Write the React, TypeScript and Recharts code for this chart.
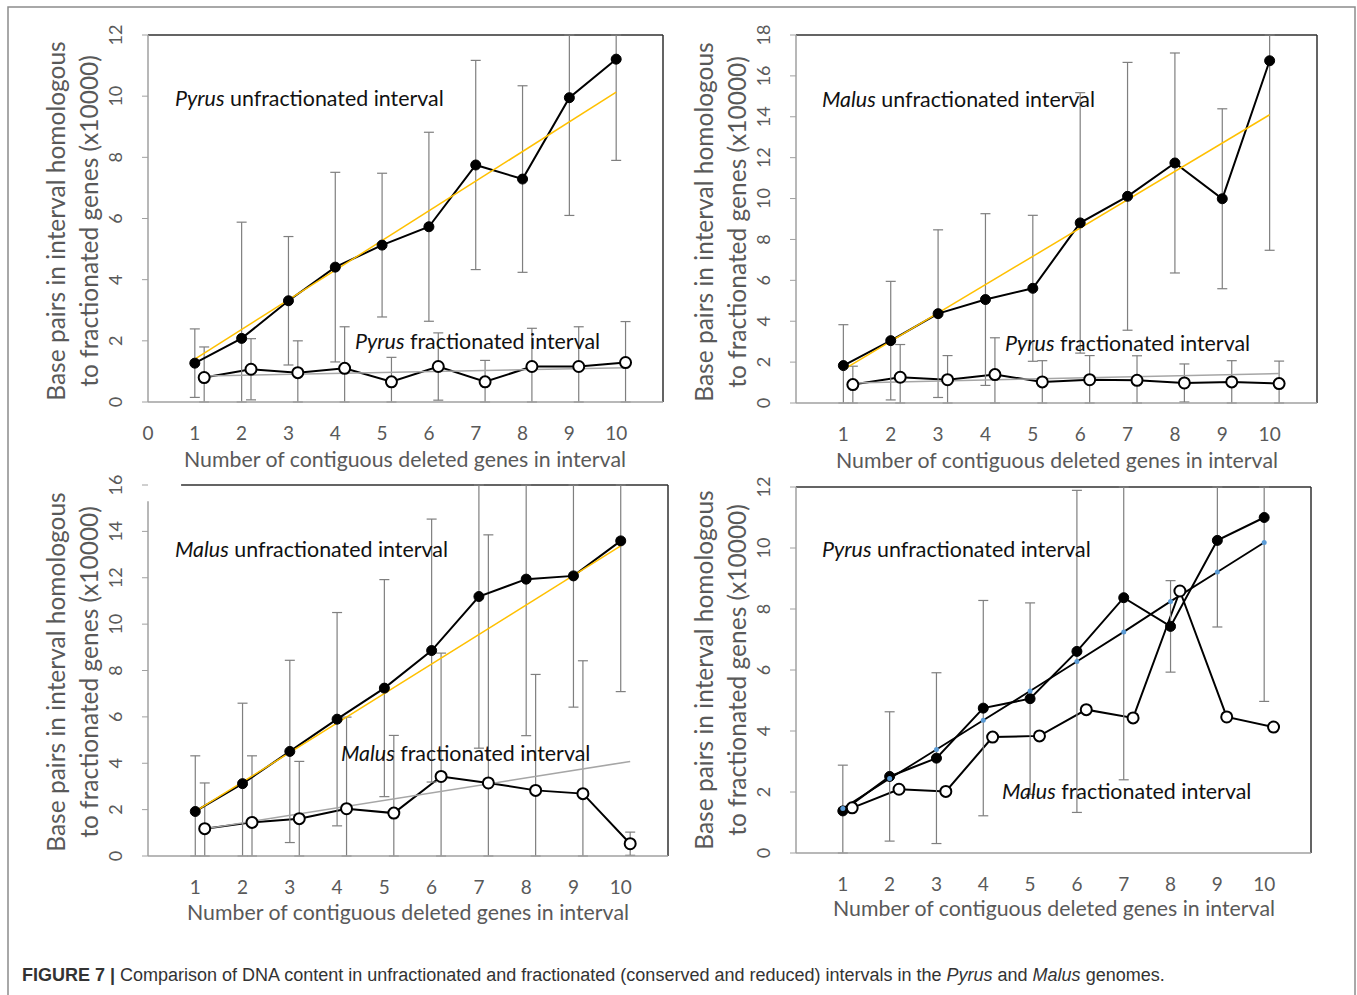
import React from 'react';
import { ComposedChart, Line, XAxis, YAxis, ErrorBar, ReferenceLine } from 'recharts';

// ---------- data ----------
const positions = [1, 2, 3, 4, 5, 6, 7, 8, 9, 10];
const fracShift = 0.2;
const trendX = [1, 10];

// Panel A: Pyrus unfractionated vs Pyrus fractionated
const aUnfrac = [1.27, 2.08, 3.31, 4.41, 5.13, 5.73, 7.75, 7.29, 9.95, 11.21];
const aUnfracErr = [1.12, 3.8, 2.1, 3.1, 2.35, 3.09, 3.42, 3.05, 3.85, 3.31];
const aFrac = [0.8, 1.07, 0.96, 1.1, 0.66, 1.16, 0.66, 1.16, 1.16, 1.29];
const aFracErr = [1.0, 1.0, 1.04, 1.36, 0.8, 1.1, 0.7, 1.25, 1.3, 1.34];
const aUnfracTrend = [1.4, 10.13];
const aFracTrend = [0.85, 1.12];
const aYTicks = [0, 2, 4, 6, 8, 10, 12];
const aXTicks = [0, 1, 2, 3, 4, 5, 6, 7, 8, 9, 10];

// Panel B: Malus unfractionated vs Pyrus fractionated
const bUnfrac = [1.83, 3.05, 4.37, 5.06, 5.61, 8.81, 10.11, 11.74, 9.99, 16.74];
const bUnfracErr = [2.0, 2.9, 4.1, 4.2, 3.57, 6.37, 6.55, 5.38, 4.4, 9.27];
const bFrac = [0.9, 1.26, 1.14, 1.39, 1.03, 1.14, 1.11, 0.98, 1.03, 0.95];
const bFracErr = [0.9, 1.6, 1.18, 1.8, 1.04, 1.18, 1.2, 0.93, 1.04, 1.1];
const bUnfracTrend = [1.63, 14.1];
const bFracTrend = [0.98, 1.44];
const bYTicks = [0, 2, 4, 6, 8, 10, 12, 14, 16, 18];

// Panel C: Malus unfractionated vs Malus fractionated
const cUnfrac = [1.92, 3.12, 4.51, 5.9, 7.24, 8.86, 11.19, 11.94, 12.08, 13.59];
const cUnfracErr = [2.4, 3.47, 3.93, 4.6, 4.68, 5.67, 6.54, 6.75, 5.66, 6.5];
const cFrac = [1.18, 1.45, 1.61, 2.04, 1.85, 3.43, 3.15, 2.83, 2.69, 0.53];
const cFracErr = [1.97, 2.87, 2.47, 3.95, 3.35, 5.32, 10.7, 5.0, 5.73, 0.5];
const cUnfracTrend = [1.92, 13.37];
const cFracTrend = [1.17, 4.08];
const cYTicks = [0, 2, 4, 6, 8, 10, 12, 14, 16];

// Panel D: Pyrus unfractionated vs Malus fractionated
const dUnfrac = [1.38, 2.51, 3.11, 4.75, 5.06, 6.61, 8.37, 7.43, 10.25, 11.0];
const dUnfracErr = [1.5, 2.12, 2.8, 3.53, 3.14, 5.28, 5.97, 1.5, 2.84, 6.03];
const dFrac = [1.48, 2.09, 2.02, 3.8, 3.84, 4.7, 4.43, 8.59, 4.46, 4.13];
const dTrend = [1.46, 2.44, 3.39, 4.35, 5.31, 6.28, 7.25, 8.25, 9.21, 10.18];
const dYTicks = [0, 2, 4, 6, 8, 10, 12];

const xTicks = [1, 2, 3, 4, 5, 6, 7, 8, 9, 10];

const yTitle1 = 'Base pairs in interval homologous';
const yTitle2 = 'to fractionated genes (x10000)';
const xTitle = 'Number of contiguous deleted genes in interval';

// ---------- helpers ----------
const W = 1357;
const H = 995;
const FONT = 'Lato, "Open Sans", sans-serif';
const AXIS_GRAY = '#a0a0a0';
const ERR_GRAY = '#7f7f7f';
const TEXT_GRAY = '#595959';
const FRAME = '#303030';

// error bars are cut at the plot frame, as in the source figure
const series = (xs: number[], ys: number[], errs: number[] | undefined, shift: number, yMax: number) =>
  xs.map((x, i) => {
    const e = errs ? errs[i] : 0;
    return { x: x + shift, y: ys[i], e: [Math.min(e, ys[i]), Math.min(e, yMax - ys[i])] };
  });

type PanelProps = {
  x0: number; x1: number; y0: number; y1: number;
  yMax: number; yTicks: number[]; xTicksList: number[];
  unfrac: number[]; unfracErr: number[];
  frac: number[]; fracErr?: number[];
  unfracTrend?: number[]; fracTrend?: number[];
  lineTrend?: number[];
  topStart?: number; leftTop?: number;
};

function Panel(p: PanelProps) {
  const YW = 40;
  const XH = 40;
  const margin = { top: p.y0, left: p.x0 - YW, right: W - p.x1, bottom: H - p.y1 - XH };
  const unfracData = series(positions, p.unfrac, p.unfracErr, 0, p.yMax);
  const fracData = series(positions, p.frac, p.fracErr, fracShift, p.yMax);
  const YTick = (props: any) => {
    const { y, payload } = props;
    const cx = p.x0 - 33;
    return (
      <text x={cx} y={y} transform={`rotate(-90 ${cx} ${y})`} textAnchor="middle" dominantBaseline="central"
        fontFamily={FONT} fontSize={18} fill={TEXT_GRAY}>{payload.value}</text>
    );
  };
  const XTick = (props: any) => {
    const { x, payload } = props;
    return (
      <text x={x} y={p.y1 + 30} textAnchor="middle" dominantBaseline="central"
        fontFamily={FONT} fontSize={19} fill={TEXT_GRAY}>{payload.value}</text>
    );
  };
  return (
    <div style={{ position: 'absolute', left: 0, top: 0 }}>
      <ComposedChart width={W} height={H} margin={margin}>
        <XAxis type="number" dataKey="x" domain={[0, 11]} ticks={p.xTicksList} allowDataOverflow
          axisLine={{ stroke: AXIS_GRAY, strokeWidth: 1.5 }} tickLine={false} tick={XTick} height={XH} interval={0} />
        <YAxis type="number" domain={[0, p.yMax]} ticks={p.yTicks} allowDataOverflow width={YW}
          axisLine={p.leftTop === undefined ? { stroke: AXIS_GRAY, strokeWidth: 1.5 } : false}
          tickLine={{ stroke: AXIS_GRAY }} tickSize={6} tick={YTick} interval={0} />
        {p.leftTop !== undefined && (
          <ReferenceLine segment={[{ x: 0, y: 0 }, { x: 0, y: p.leftTop }]} stroke={AXIS_GRAY} strokeWidth={1.5} />
        )}
        <ReferenceLine segment={[{ x: p.topStart ?? 0, y: p.yMax }, { x: 11, y: p.yMax }]} stroke={FRAME} strokeWidth={1.5} />
        <ReferenceLine segment={[{ x: 11, y: 0 }, { x: 11, y: p.yMax }]} stroke={FRAME} strokeWidth={1.5} />
        <Line data={fracData} dataKey="y" stroke="#000" strokeWidth={2} isAnimationActive={false}
          dot={{ r: 5.5, fill: '#fff', stroke: '#000', strokeWidth: 2 }} activeDot={false}>
          {p.fracErr && <ErrorBar dataKey="e" width={5} stroke={ERR_GRAY} strokeWidth={1.2} direction="y" />}
        </Line>
        <Line data={unfracData} dataKey="y" stroke="#000" strokeWidth={2} isAnimationActive={false}
          dot={{ r: 5, fill: '#000', stroke: '#000', strokeWidth: 1 }} activeDot={false}>
          <ErrorBar dataKey="e" width={5} stroke={ERR_GRAY} strokeWidth={1.2} direction="y" />
        </Line>
        {p.fracTrend && (
          <Line data={series(trendX, p.fracTrend, undefined, fracShift, p.yMax)} dataKey="y" stroke="#a6a6a6" strokeWidth={1.5}
            dot={false} activeDot={false} isAnimationActive={false} />
        )}
        {p.unfracTrend && (
          <Line data={series(trendX, p.unfracTrend, undefined, 0, p.yMax)} dataKey="y" stroke="#FFC000" strokeWidth={1.5}
            dot={false} activeDot={false} isAnimationActive={false} />
        )}
        {p.lineTrend && (
          <Line data={series(positions, p.lineTrend, undefined, 0, p.yMax)} dataKey="y" stroke="#000" strokeWidth={1.8}
            dot={{ r: 2.5, fill: '#5b9bd5', stroke: 'none' }} activeDot={false} isAnimationActive={false} />
        )}
      </ComposedChart>
    </div>
  );
}

const Note = ({ x, y, genus, rest }: { x: number; y: number; genus: string; rest: string }) => (
  <text x={x} y={y} fontFamily={FONT} fontSize={21.4} fill="#111">
    <tspan fontStyle="italic">{genus}</tspan>
    <tspan>{' ' + rest}</tspan>
  </text>
);

const YTitle = ({ x, y }: { x: number; y: number }) => (
  <g fontFamily={FONT} fontSize={24.5} fill={TEXT_GRAY} textAnchor="middle">
    <text transform={`translate(${x},${y}) rotate(-90)`} dominantBaseline="central">{yTitle1}</text>
    <text transform={`translate(${x + 33},${y}) rotate(-90)`} dominantBaseline="central">{yTitle2}</text>
  </g>
);

const XTitle = ({ x, y }: { x: number; y: number }) => (
  <text x={x} y={y} textAnchor="middle" dominantBaseline="central" fontFamily={FONT} fontSize={21.3} fill={TEXT_GRAY}>{xTitle}</text>
);

export default function App() {
  return (
    <div style={{ position: 'absolute', left: 0, top: 0, width: W, height: H, background: '#fff', overflow: 'hidden' }}>
      <Panel x0={148} x1={663} y0={35} y1={402} yMax={12} yTicks={aYTicks} xTicksList={aXTicks}
        unfrac={aUnfrac} unfracErr={aUnfracErr} frac={aFrac} fracErr={aFracErr}
        unfracTrend={aUnfracTrend} fracTrend={aFracTrend} />
      <Panel x0={796} x1={1317} y0={35} y1={403} yMax={18} yTicks={bYTicks} xTicksList={xTicks}
        unfrac={bUnfrac} unfracErr={bUnfracErr} frac={bFrac} fracErr={bFracErr}
        unfracTrend={bUnfracTrend} fracTrend={bFracTrend} />
      <Panel x0={148} x1={668} y0={485} y1={856} yMax={16} yTicks={cYTicks} xTicksList={xTicks}
        unfrac={cUnfrac} unfracErr={cUnfracErr} frac={cFrac} fracErr={cFracErr}
        unfracTrend={cUnfracTrend} fracTrend={cFracTrend} topStart={0.7} leftTop={15.3} />
      <Panel x0={796} x1={1311} y0={487} y1={853} yMax={12} yTicks={dYTicks} xTicksList={xTicks}
        unfrac={dUnfrac} unfracErr={dUnfracErr} frac={dFrac} lineTrend={dTrend} />
      <svg width={W} height={H} style={{ position: 'absolute', left: 0, top: 0, pointerEvents: 'none' }}>
        <rect x={8} y={7} width={1347} height={1010} fill="none" stroke="#8c8c8c" strokeWidth={1.5} />
        <YTitle x={55} y={221} />
        <YTitle x={703} y={222} />
        <YTitle x={55} y={672} />
        <YTitle x={703} y={670} />
        <XTitle x={405} y={459} />
        <XTitle x={1057} y={460} />
        <XTitle x={408} y={912} />
        <XTitle x={1054} y={908} />
        <Note x={175} y={106} genus="Pyrus" rest="unfractionated interval" />
        <Note x={355} y={349} genus="Pyrus" rest="fractionated interval" />
        <Note x={822} y={107} genus="Malus" rest="unfractionated interval" />
        <Note x={1005} y={351} genus="Pyrus" rest="fractionated interval" />
        <Note x={175} y={557} genus="Malus" rest="unfractionated interval" />
        <Note x={341} y={761} genus="Malus" rest="fractionated interval" />
        <Note x={822} y={557} genus="Pyrus" rest="unfractionated interval" />
        <Note x={1002} y={799} genus="Malus" rest="fractionated interval" />
        <text x={22} y={981} fontFamily='"Liberation Sans", Arial, sans-serif' fontSize={18} fill="#333">
          <tspan fontWeight="bold">FIGURE 7 | </tspan>
          <tspan>Comparison of DNA content in unfractionated and fractionated (conserved and reduced) intervals in the </tspan>
          <tspan fontStyle="italic">Pyrus</tspan>
          <tspan> and </tspan>
          <tspan fontStyle="italic">Malus</tspan>
          <tspan> genomes.</tspan>
        </text>
      </svg>
    </div>
  );
}
